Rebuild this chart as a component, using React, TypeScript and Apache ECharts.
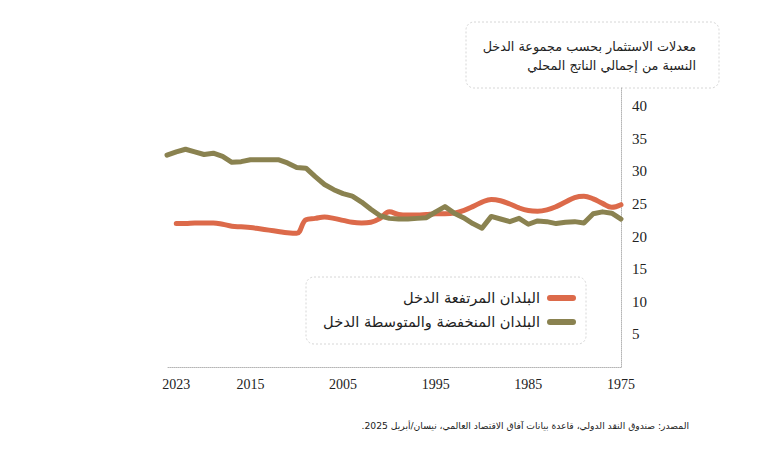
import React, { useEffect, useRef } from "react";
import * as echarts from "echarts";

const years: string[] = [];
for (let y = 1975; y <= 2024; y++) years.push(String(y));

const shownYears = ["1975", "1985", "1995", "2005", "2015", "2023"];

// 1975..2023
const highIncome = [
  24.9, 24.5, 25.1, 25.8, 26.2, 26.0, 25.3, 24.6, 24.1, 23.9,
  24.0, 24.4, 25.0, 25.5, 25.7, 25.3, 24.6, 24.0, 23.6, 23.5,
  23.5, 23.4, 23.3, 23.3, 23.4, 23.8, 22.8, 22.2, 22.1, 22.2,
  22.5, 22.8, 23.0, 22.8, 22.6, 20.5, 20.6, 20.8, 21.0, 21.2,
  21.4, 21.5, 21.6, 21.9, 22.1, 22.1, 22.1, 22.0, 22.0,
];

// 1975..2024
const lowMiddleIncome = [
  22.7, 23.6, 23.8, 23.5, 22.1, 22.3, 22.2, 22.0, 22.3, 22.4,
  21.9, 22.8, 22.3, 22.7, 23.1, 21.3, 22.0, 22.9, 23.6, 24.6,
  23.8, 22.9, 22.8, 22.7, 22.7, 22.8, 23.2, 24.2, 25.3, 26.2,
  26.6, 27.2, 28.0, 29.2, 30.5, 30.6, 31.3, 31.8, 31.8, 31.8,
  31.8, 31.5, 31.4, 32.3, 32.8, 32.6, 33.0, 33.4, 33.0, 32.5,
];

const seriesNames = ["البلدان المرتفعة الدخل", "البلدان المنخفضة والمتوسطة الدخل"];
const titleLines = ["معدلات الاستثمار بحسب مجموعة الدخل", "النسبة من إجمالي الناتج المحلي"];
const sourceText = "المصدر: صندوق النقد الدولي، قاعدة بيانات آفاق الاقتصاد العالمي، نيسان/أبريل 2025.";

const RED = "#dc6a4a";
const OLIVE = "#8a8250";
const AR_FONT = "'DejaVu Sans', 'Noto Sans', sans-serif";
const NUM_FONT = "'Liberation Serif', 'DejaVu Serif', serif";
const rtl = (s: string) => "\u202B" + s + "\u202C";

export default function App() {
  const ref = useRef<HTMLDivElement>(null);
  useEffect(() => {
    if (!ref.current) return;
    const chart = echarts.init(ref.current, null, { renderer: "svg" });
    chart.setOption({
      animation: false,
      backgroundColor: "#ffffff",
      grid: { left: 167, right: 147, top: 88, bottom: 84 },
      xAxis: {
        type: "category",
        data: years,
        inverse: true,
        boundaryGap: false,
        axisLine: { show: true, lineStyle: { color: "#b5b5b5", type: "dotted", width: 1 } },
        axisTick: { show: false },
        splitLine: { show: false },
        axisLabel: {
          interval: (_i: number, v: string) => shownYears.includes(v),
          color: "#222",
          fontFamily: NUM_FONT,
          fontSize: 14,
          margin: 10,
        },
      },
      yAxis: {
        type: "value",
        position: "right",
        min: 0,
        max: 42.8,
        interval: 5,
        axisLine: { show: true, lineStyle: { color: "#b5b5b5", type: "dotted", width: 1 } },
        axisTick: { show: false },
        splitLine: { show: false },
        axisLabel: {
          color: "#222",
          fontFamily: NUM_FONT,
          fontSize: 15,
          margin: 11,
          formatter: (v: number) => (v > 0 && v % 5 === 0 ? String(v) : ""),
        },
      },
      series: [
        {
          name: seriesNames[0],
          type: "line",
          data: highIncome,
          smooth: 0.4,
          showSymbol: false,
          lineStyle: { color: RED, width: 5, cap: "round", join: "round" },
          itemStyle: { color: RED },
        },
        {
          name: seriesNames[1],
          type: "line",
          data: lowMiddleIncome,
          smooth: false,
          showSymbol: false,
          lineStyle: { color: OLIVE, width: 5, cap: "round", join: "round" },
          itemStyle: { color: OLIVE },
        },
      ],
      graphic: [
        {
          type: "rect",
          shape: { x: 466, y: 22, width: 253, height: 66, r: 8 },
          style: { fill: "none", stroke: "#d6d6d6", lineWidth: 1, lineDash: [2, 2] },
        },
        {
          type: "text",
          x: 696,
          y: 46,
          style: {
            text: titleLines[0],
            align: "right",
            verticalAlign: "middle",
            fontFamily: AR_FONT,
            fontSize: 12.8,
            fill: "#222",
          },
        },
        {
          type: "text",
          x: 696,
          y: 65,
          style: {
            text: titleLines[1],
            align: "right",
            verticalAlign: "middle",
            fontFamily: AR_FONT,
            fontSize: 12.8,
            fill: "#222",
          },
        },
        {
          type: "rect",
          shape: { x: 306, y: 277, width: 280, height: 67, r: 8 },
          style: { fill: "#ffffff", stroke: "#d6d6d6", lineWidth: 1, lineDash: [2, 2] },
        },
        {
          type: "line",
          shape: { x1: 550, y1: 298, x2: 573, y2: 298 },
          style: { stroke: RED, lineWidth: 6, lineCap: "round" },
        },
        {
          type: "text",
          x: 540,
          y: 297,
          style: {
            text: seriesNames[0],
            align: "right",
            verticalAlign: "middle",
            fontFamily: AR_FONT,
            fontSize: 14.6,
            fill: "#222",
          },
        },
        {
          type: "line",
          shape: { x1: 550, y1: 322, x2: 573, y2: 322 },
          style: { stroke: OLIVE, lineWidth: 6, lineCap: "round" },
        },
        {
          type: "text",
          x: 540,
          y: 321,
          style: {
            text: seriesNames[1],
            align: "right",
            verticalAlign: "middle",
            fontFamily: AR_FONT,
            fontSize: 14.6,
            fill: "#222",
          },
        },
        {
          type: "text",
          x: 689,
          y: 425,
          style: {
            text: rtl(sourceText),
            align: "right",
            verticalAlign: "middle",
            fontFamily: AR_FONT,
            fontSize: 9.2,
            fill: "#222",
          },
        },
      ],
    });
    return () => chart.dispose();
  }, []);
  return (
    <div style={{ position: "absolute", left: 0, top: 0 }}>
      <div ref={ref} style={{ width: 768, height: 451 }} />
    </div>
  );
}
